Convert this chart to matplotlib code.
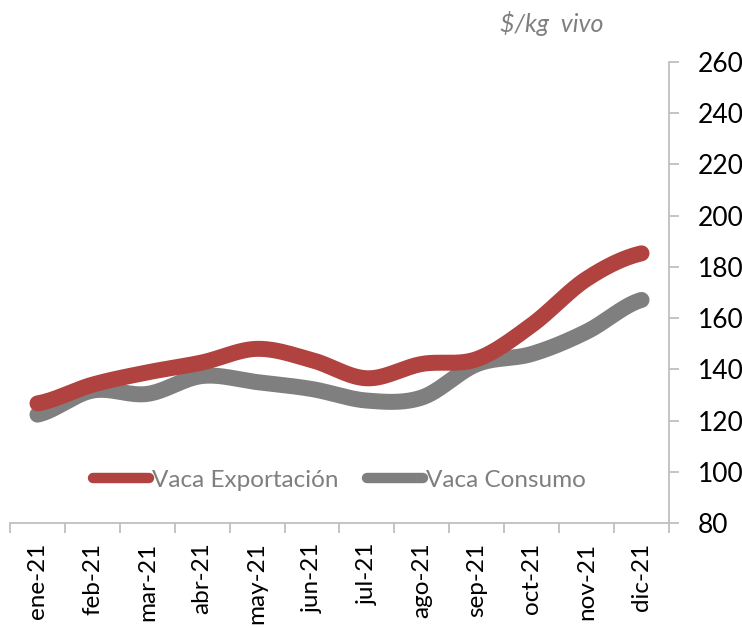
import numpy as np
import matplotlib
matplotlib.use("Agg")
import matplotlib.pyplot as plt
from matplotlib.lines import Line2D

months = ["ene-21", "feb-21", "mar-21", "abr-21", "may-21", "jun-21",
          "jul-21", "ago-21", "sep-21", "oct-21", "nov-21", "dic-21"]
vaca_exportacion = [126.7, 134.0, 138.8, 142.7, 148.0, 143.6,
                    136.5, 142.1, 144.0, 157.3, 175.3, 185.3]
vaca_consumo = [122.3, 131.7, 130.4, 137.4, 135.0, 132.3,
                127.8, 129.0, 142.0, 146.0, 154.7, 167.1]
yticks = [80, 100, 120, 140, 160, 180, 200, 220, 240, 260]

RED = "#B04240"
GRAY = "#7F7F7F"
SPINE = "#BFBFBF"
FONT = "Lato"


def smooth(y, n=30):
    """Catmull-Rom (Excel-like) smoothing over category index."""
    y = np.asarray(y, float)
    k = len(y)
    m = np.zeros(k)
    m[1:-1] = (y[2:] - y[:-2]) / 2.0
    m[0] = (y[1] - y[0]) / 2.0
    m[-1] = (y[-1] - y[-2]) / 2.0
    xs, ys = [], []
    for i in range(k - 1):
        t = np.linspace(0, 1, n, endpoint=(i == k - 2))
        h00 = 2 * t**3 - 3 * t**2 + 1
        h10 = t**3 - 2 * t**2 + t
        h01 = -2 * t**3 + 3 * t**2
        h11 = t**3 - t**2
        ys.append(h00 * y[i] + h10 * m[i] + h01 * y[i + 1] + h11 * m[i + 1])
        xs.append(i + t)
    return np.concatenate(xs), np.concatenate(ys)


fig = plt.figure(figsize=(7.42, 6.28), dpi=100)
ax = fig.add_axes([10 / 742, 1 - 523 / 628, 659 / 742, 461 / 628])

x = np.arange(len(months))
xe, ye = smooth(vaca_exportacion)
xc, yc = smooth(vaca_consumo)
ax.plot(xe, ye, color=RED, lw=11.5, solid_capstyle="round", solid_joinstyle="round", zorder=3)
ax.plot(xc, yc, color=GRAY, lw=11.5, solid_capstyle="round", solid_joinstyle="round", zorder=2)

ax.set_xlim(-0.5, len(months) - 0.5)
ax.set_ylim(80, 260)

# Spines
for s in ["left", "top"]:
    ax.spines[s].set_visible(False)
for s in ["right", "bottom"]:
    ax.spines[s].set_color(SPINE)
    ax.spines[s].set_linewidth(1.3)

ax.yaxis.tick_right()
ax.set_yticks(yticks)
ax.set_yticklabels([str(v) for v in yticks], fontfamily=FONT, fontsize=19)
ax.tick_params(axis="y", direction="out", length=7, width=1.3, color=SPINE, pad=14)

ax.set_xticks(x)
ax.set_xticklabels(months, rotation=90, fontfamily=FONT, fontsize=17.5)
ax.tick_params(axis="x", which="major", length=0, pad=14)
ax.set_xticks(np.arange(-0.5, len(months)), minor=True)
ax.tick_params(axis="x", which="minor", direction="out", length=7, width=1.3, color=SPINE)

# Legend
handles = [Line2D([], [], color=RED, lw=7.5, solid_capstyle="round"),
           Line2D([], [], color=GRAY, lw=7.5, solid_capstyle="round")]
leg = ax.legend(handles, ["Vaca Exportación", "Vaca Consumo"], ncol=2,
                loc="center", bbox_to_anchor=(0.5, 0.093), frameon=False,
                handlelength=2.3, handletextpad=0.1, columnspacing=1.2,
                prop={"family": FONT, "size": 17.5})
for t in leg.get_texts():
    t.set_color(GRAY)

fig.text(604 / 742, 1 - 24 / 628, "$/kg  vivo", ha="right", va="center",
         fontfamily=FONT, fontsize=18, style="italic", color=GRAY)

fig.savefig("out.png", dpi=100)
